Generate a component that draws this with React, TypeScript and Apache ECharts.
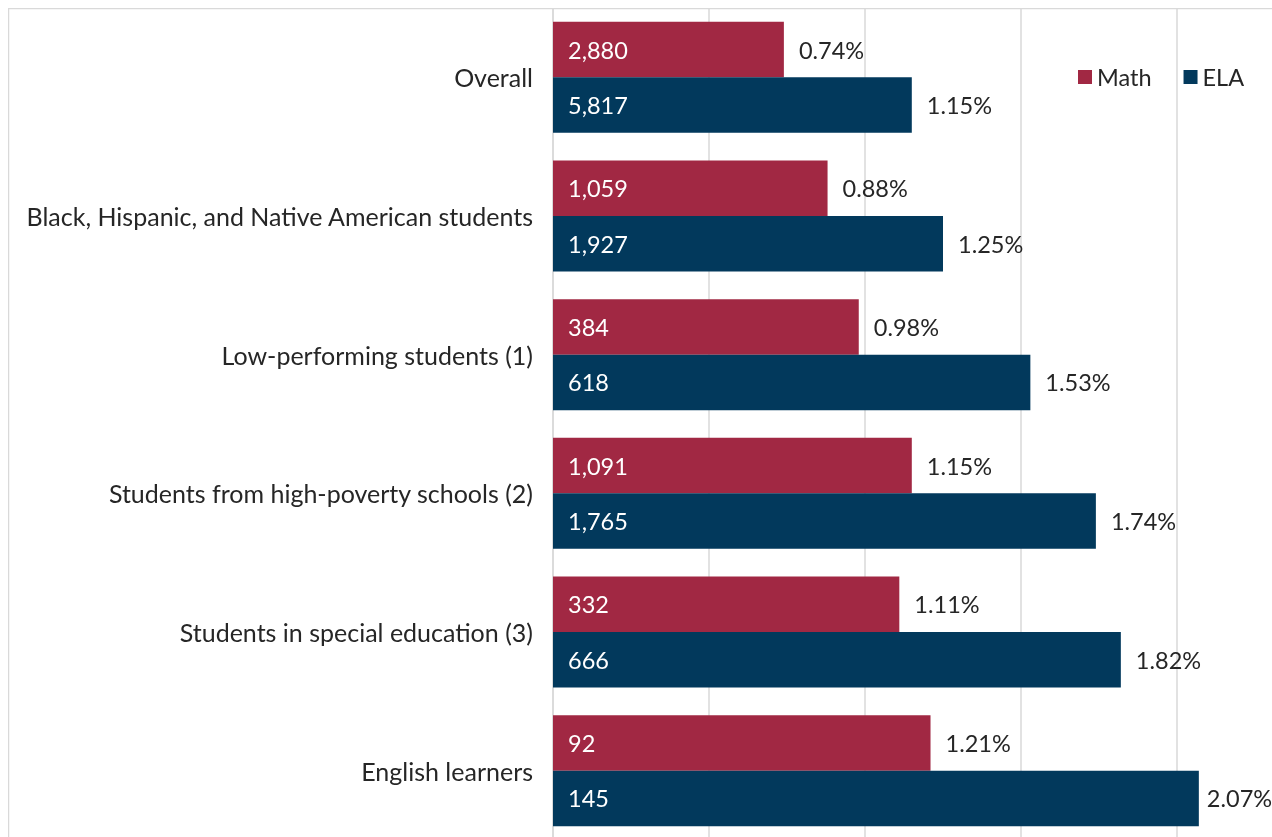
import React, { useEffect, useRef } from "react";
import * as echarts from "echarts";

const categories = [
  "Overall",
  "Black, Hispanic, and Native American students",
  "Low-performing students (1)",
  "Students from high-poverty schools (2)",
  "Students in special education (3)",
  "English learners",
];
const mathPct = [0.74, 0.88, 0.98, 1.15, 1.11, 1.21];
const elaPct = [1.15, 1.25, 1.53, 1.74, 1.82, 2.07];
const mathCount = [2880, 1059, 384, 1091, 332, 92];
const elaCount = [5817, 1927, 618, 1765, 666, 145];
const zeros = [0, 0, 0, 0, 0, 0];

const FONT = "Lato";
const MATH_COLOR = "#A12843";
const ELA_COLOR = "#02395C";
const TEXT = "#262626";
const GRID = "#d9d9d9";
const LABEL_SIZE = 23.5;
const CAT_SIZE = 25;

export default function App() {
  const ref = useRef<HTMLDivElement>(null);
  useEffect(() => {
    if (!ref.current) return;
    const chart = echarts.init(ref.current, null, { renderer: "svg" });
    const fmt = (n: number) => n.toLocaleString("en-US");
    const elaPctData = zeros.map((v, i) =>
      i === zeros.length - 1 ? { value: v, label: { distance: 8 } } : v
    );
    chart.setOption({
      animation: false,
      textStyle: { fontFamily: FONT },
      legend: {
        data: ["Math", "ELA"],
        left: 1070,
        top: 57,
        padding: 0,
        itemWidth: 14,
        itemHeight: 14,
        itemGap: 32,
        icon: "rect",
        textStyle: { fontFamily: FONT, fontSize: LABEL_SIZE, color: TEXT },
      },
      graphic: [
        { type: "line", shape: { x1: 0, y1: 0.5, x2: 1400, y2: 0.5 }, style: { stroke: GRID, lineWidth: 1.5 } },
        { type: "line", shape: { x1: 0.5, y1: 0, x2: 0.5, y2: 900 }, style: { stroke: GRID, lineWidth: 1.5 } },
      ],
      grid: { left: 545, top: 0, width: 780, height: 832, containLabel: false },
      xAxis: {
        type: "value",
        min: 0,
        max: 2.5,
        interval: 0.5,
        axisLabel: { show: false },
        axisLine: { show: false },
        axisTick: { show: false },
        splitLine: { show: true, lineStyle: { color: GRID, width: 1.5 } },
      },
      yAxis: {
        type: "category",
        data: categories,
        inverse: true,
        axisLine: { show: true, lineStyle: { color: GRID, width: 1.5 } },
        axisTick: { show: false },
        axisLabel: { margin: 20, fontFamily: FONT, fontSize: CAT_SIZE, color: TEXT },
      },
      series: [
        {
          name: "Math",
          type: "bar",
          stack: "math",
          data: mathPct,
          itemStyle: { color: MATH_COLOR },
          barCategoryGap: "20%",
          barGap: "0%",
          label: {
            show: true,
            position: "insideLeft",
            distance: 15,
            color: "#ffffff",
            fontFamily: FONT,
            fontSize: LABEL_SIZE,
            formatter: (p: any) => fmt(mathCount[p.dataIndex]),
          },
        },
        {
          name: "MathPct",
          type: "bar",
          stack: "math",
          data: zeros,
          itemStyle: { color: "transparent" },
          label: {
            show: true,
            position: "right",
            distance: 15,
            color: TEXT,
            fontFamily: FONT,
            fontSize: LABEL_SIZE,
            formatter: (p: any) => mathPct[p.dataIndex].toFixed(2) + "%",
          },
        },
        {
          name: "ELA",
          type: "bar",
          stack: "ela",
          data: elaPct,
          itemStyle: { color: ELA_COLOR },
          barCategoryGap: "20%",
          barGap: "0%",
          label: {
            show: true,
            position: "insideLeft",
            distance: 15,
            color: "#ffffff",
            fontFamily: FONT,
            fontSize: LABEL_SIZE,
            formatter: (p: any) => fmt(elaCount[p.dataIndex]),
          },
        },
        {
          name: "ElaPct",
          type: "bar",
          stack: "ela",
          data: elaPctData,
          itemStyle: { color: "transparent" },
          label: {
            show: true,
            position: "right",
            distance: 15,
            color: TEXT,
            fontFamily: FONT,
            fontSize: LABEL_SIZE,
            formatter: (p: any) => elaPct[p.dataIndex].toFixed(2) + "%",
          },
        },
      ],
    });
    return () => chart.dispose();
  }, []);
  return (
    <div
      style={{
        position: "fixed",
        left: 8,
        top: 8,
        width: 1264,
        height: 829,
        overflow: "hidden",
      }}
    >
      <div ref={ref} style={{ width: 1400, height: 900 }} />
    </div>
  );
}
